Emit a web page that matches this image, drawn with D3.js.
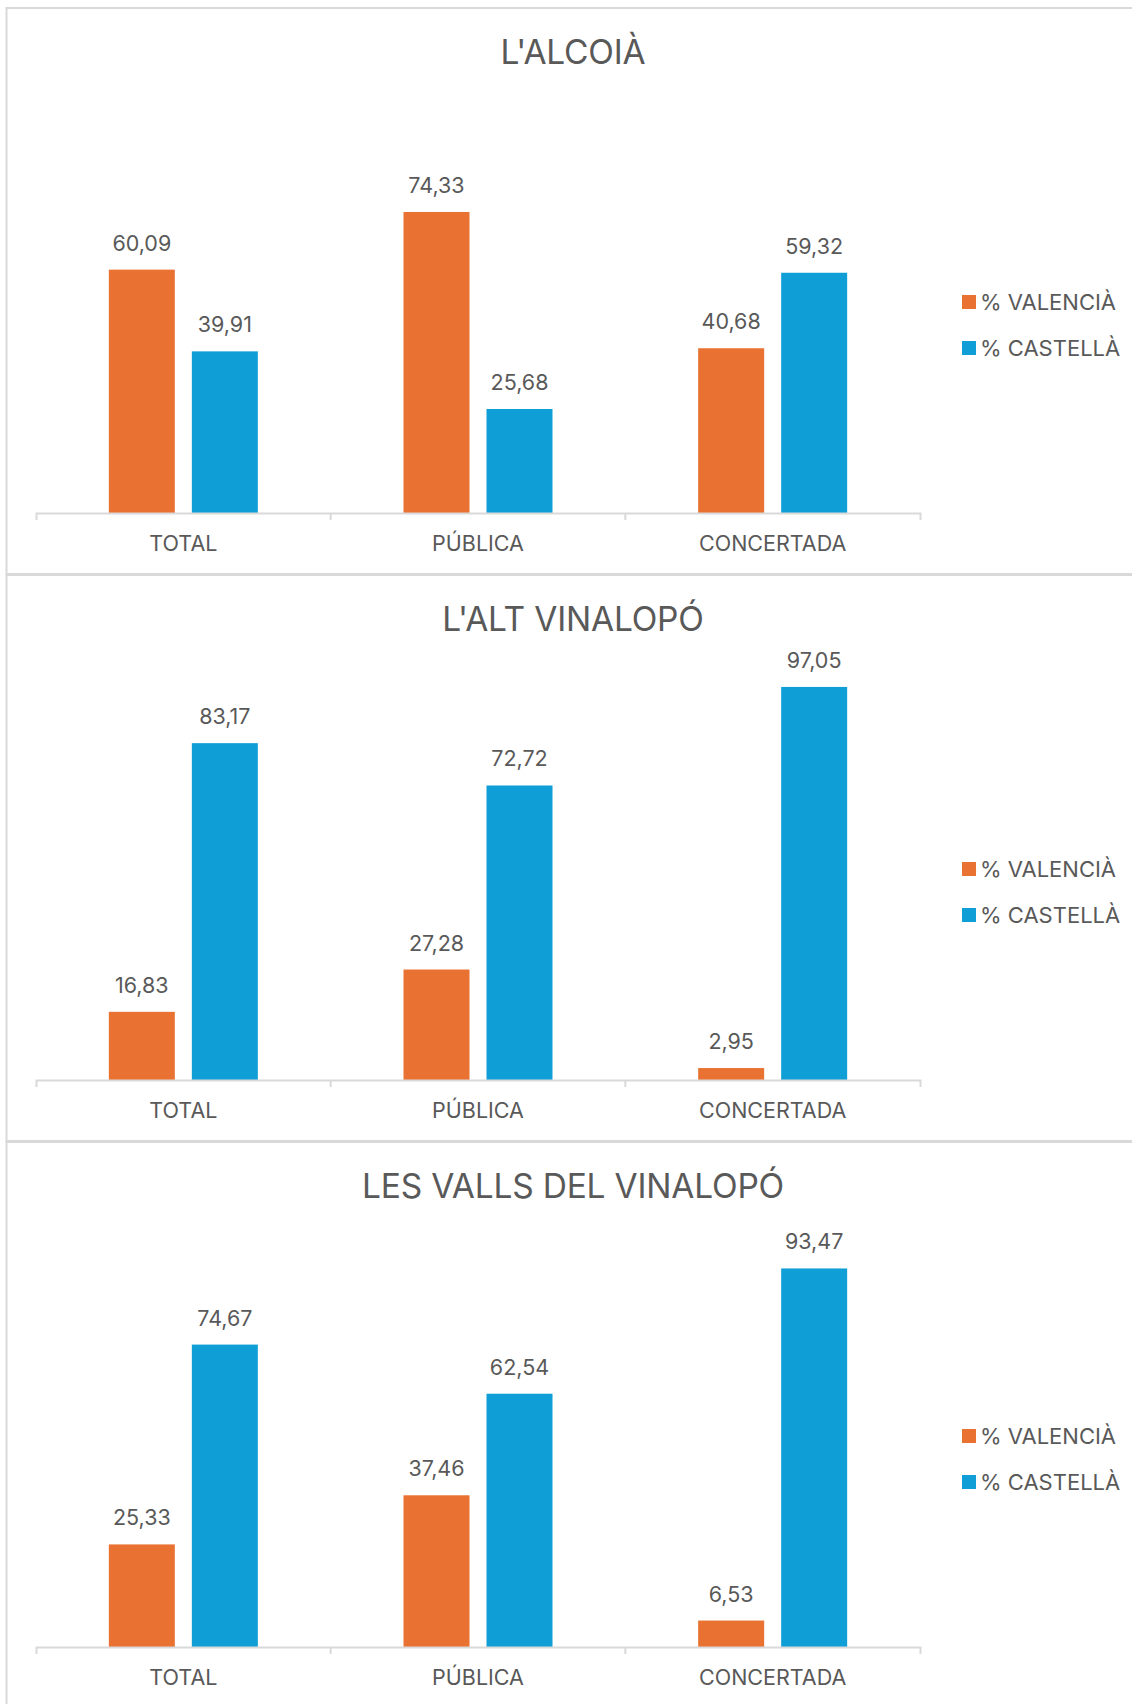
<!DOCTYPE html>
<html>
<head>
<meta charset="utf-8">
<script src="https://cdn.jsdelivr.net/npm/d3@7"></script>
<style>
  body { margin: 0; background: #fff; }
  svg text { font-family: Inter, "Open Sans", sans-serif; fill: #595959; }
</style>
</head>
<body>
<div id="chart"></div>
<script>
// values
const regions = ["L'ALCOIÀ", "L'ALT VINALOPÓ", "LES VALLS DEL VINALOPÓ"];
const categories = ["TOTAL", "PÚBLICA", "CONCERTADA"];
const series = ["% VALENCIÀ", "% CASTELLÀ"];
const valencia = [
    [60.09, 74.33, 40.68],
    [16.83, 27.28, 2.95],
    [25.33, 37.46, 6.53]
];
const castella = [
    [39.91, 25.68, 59.32],
    [83.17, 72.72, 97.05],
    [74.67, 62.54, 93.47]
];
const colors = ["#E97132", "#0F9ED5"];

const width = 1132, height = 1704;
const panelH = 567;
const panelTop = 8;
const baseline = 505;   // axis line, relative to panel top
const axisLeft = 36, axisRight = 920;

const fmt = d3.formatLocale({ decimal: ",", thousands: "." }).format(".2f");

const svg = d3.select("#chart").append("svg")
    .attr("width", width)
    .attr("height", height);

const x0 = d3.scaleBand().domain(categories).range([axisLeft, axisRight]);
const bw = x0.bandwidth();
const groupPad = (bw - 149) / 2;
const x1 = d3.scaleBand().domain(series).range([groupPad, bw - groupPad]).paddingInner(0.205);
const y = d3.scaleLinear().domain([0, 100]).range([baseline, baseline - 405]);
const color = d3.scaleOrdinal().domain(series).range(colors);

regions.forEach(function (name, i) {
    const g = svg.append("g")
        .attr("transform", "translate(0," + (panelTop + i * panelH) + ")");

    // panel frame
    g.append("rect")
        .attr("x", 6.5).attr("y", 0)
        .attr("width", 1140).attr("height", panelH - 1)
        .attr("fill", "none")
        .attr("stroke", "#d9d9d9")
        .attr("stroke-width", 2);

    // title
    g.append("text")
        .attr("x", 573).attr("y", 56)
        .attr("text-anchor", "middle")
        .style("font-size", "33.5px")
        .style("letter-spacing", "-0.2px")
        .text(name);

    const rows = categories.map(function (c, j) {
        return { cat: c, vals: [valencia[i][j], castella[i][j]] };
    });

    const groups = g.selectAll(".grp").data(rows).join("g")
        .attr("class", "grp")
        .attr("transform", d => "translate(" + x0(d.cat) + ",0)");

    groups.selectAll("rect")
        .data(d => d.vals.map((v, k) => ({ key: series[k], value: v })))
        .join("rect")
        .attr("x", d => x1(d.key))
        .attr("y", d => y(d.value))
        .attr("width", x1.bandwidth())
        .attr("height", d => y(0) - y(d.value))
        .attr("fill", d => color(d.key));

    groups.selectAll(".lbl")
        .data(d => d.vals.map((v, k) => ({ key: series[k], value: v })))
        .join("text")
        .attr("class", "lbl")
        .attr("x", d => x1(d.key) + x1.bandwidth() / 2)
        .attr("y", d => y(d.value) - 19)
        .attr("text-anchor", "middle")
        .style("font-size", "21.5px")
        .text(d => fmt(d.value));

    // category axis
    const axis = g.append("g")
        .attr("transform", "translate(0," + baseline + ")")
        .call(d3.axisBottom(x0).tickSizeInner(0).tickSizeOuter(7).tickPadding(23));
    axis.select(".domain").attr("stroke", "#d9d9d9").attr("stroke-width", 2);
    axis.selectAll(".tick text").style("font-size", "21.5px").attr("fill", "#595959");
    axis.selectAll(".sep")
        .data(categories.slice(1))
        .join("line")
        .attr("class", "sep")
        .attr("x1", d => x0(d)).attr("x2", d => x0(d))
        .attr("y1", 0).attr("y2", 7)
        .attr("stroke", "#d9d9d9").attr("stroke-width", 2);

    // legend
    const leg = g.selectAll(".leg").data(series).join("g")
        .attr("class", "leg")
        .attr("transform", (d, k) => "translate(962," + (294 + k * 46) + ")");
    leg.append("rect")
        .attr("x", 0).attr("y", -7)
        .attr("width", 14).attr("height", 14)
        .attr("fill", d => color(d));
    leg.append("text")
        .attr("x", 18).attr("y", 0)
        .attr("dy", "0.35em")
        .style("font-size", "22px")
        .text(d => d);
});
</script>
</body>
</html>
